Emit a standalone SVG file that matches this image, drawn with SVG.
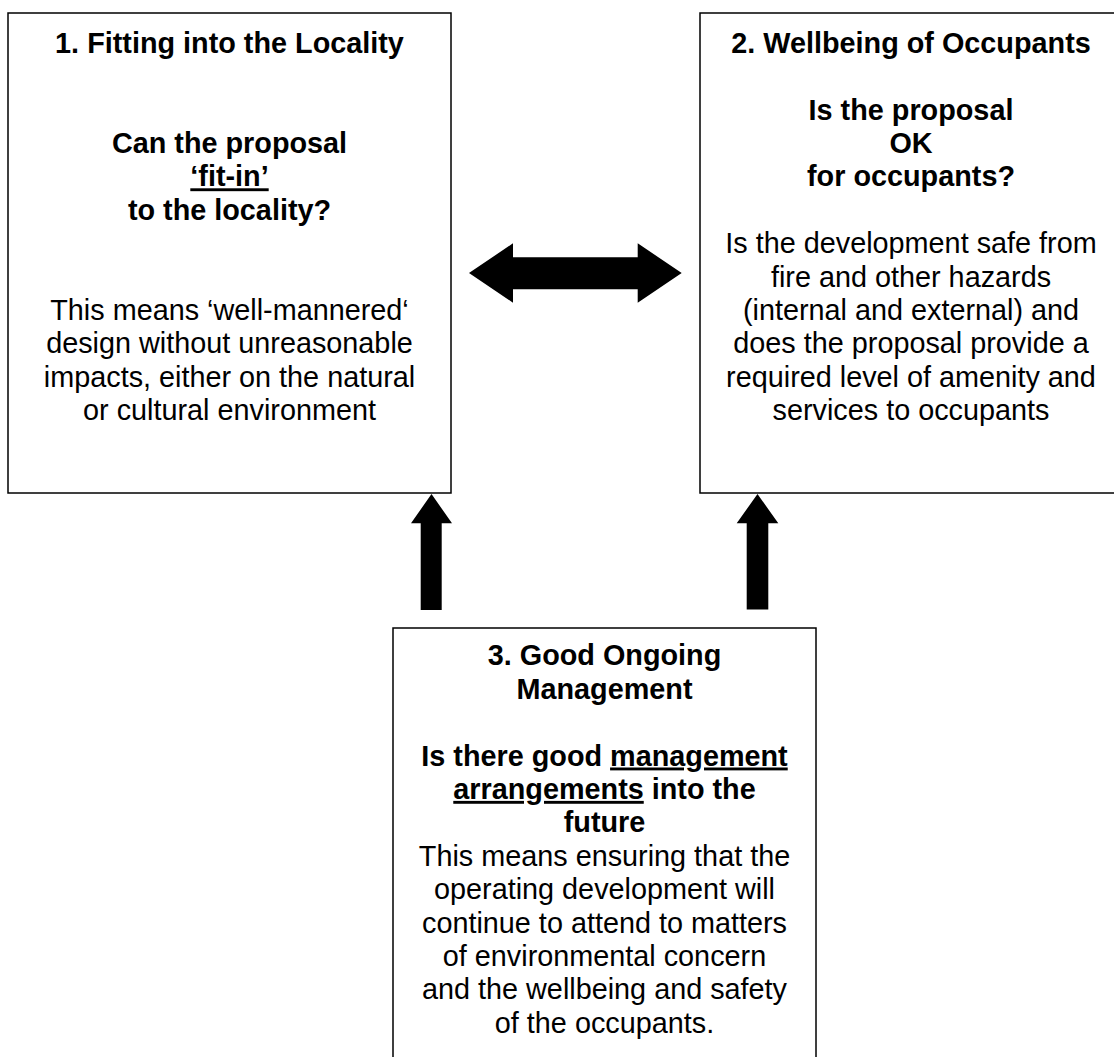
<svg xmlns="http://www.w3.org/2000/svg" width="1114" height="1057" viewBox="0 0 1114 1057">
<style>
.box{fill:#fff;stroke:#000;stroke-width:1.5}
text{font-family:"Liberation Sans",Arial,sans-serif;font-size:28.8px;fill:#000;text-anchor:middle}
.b{font-weight:bold}
.u{text-decoration:underline}
.arrow{fill:#000;stroke:none}
</style>
<rect width="1114" height="1057" fill="#fff"/>
<g id="node1">
<rect class="box" x="8" y="13" width="443" height="480"/>
<text class="b" x="229.5" y="52.7">1. Fitting into the Locality</text>
<text class="b" x="229.5" y="152.9">Can the proposal</text>
<text class="b" x="229.5" y="186.3"><tspan class="u">‘fit-in’</tspan></text>
<text class="b" x="229.5" y="219.7">to the locality?</text>
<text x="229.5" y="319.9">This means ‘well-mannered‘</text>
<text x="229.5" y="353.3">design without unreasonable</text>
<text x="229.5" y="386.7">impacts, either on the natural</text>
<text x="229.5" y="420.1">or cultural environment</text>
</g>
<g id="node2">
<rect class="box" x="700" y="13" width="422" height="480"/>
<text class="b" x="911" y="52.7">2. Wellbeing of Occupants</text>
<text class="b" x="911" y="119.5">Is the proposal</text>
<text class="b" x="911" y="152.9">OK</text>
<text class="b" x="911" y="186.3">for occupants?</text>
<text x="911" y="253.1">Is the development safe from</text>
<text x="911" y="286.5">fire and other hazards</text>
<text x="911" y="319.9">(internal and external) and</text>
<text x="911" y="353.3">does the proposal provide a</text>
<text x="911" y="386.7">required level of amenity and</text>
<text x="911" y="420.1">services to occupants</text>
</g>
<g id="node3">
<rect class="box" x="393" y="628" width="423" height="440"/>
<text class="b" x="604.5" y="665.3">3. Good Ongoing</text>
<text class="b" x="604.5" y="698.7">Management</text>
<text class="b" x="604.5" y="765.5">Is there good <tspan class="u">management</tspan></text>
<text class="b" x="604.5" y="798.9"><tspan class="u">arrangements</tspan> into the</text>
<text class="b" x="604.5" y="832.3">future</text>
<text x="604.5" y="865.7">This means ensuring that the</text>
<text x="604.5" y="899.1">operating development will</text>
<text x="604.5" y="932.5">continue to attend to matters</text>
<text x="604.5" y="965.9">of environmental concern</text>
<text x="604.5" y="999.3">and the wellbeing and safety</text>
<text x="604.5" y="1032.7">of the occupants.</text>
</g>
<g id="connectors">
<polygon class="arrow" points="469,273 513,243.3 513,257.3 637.7,257.3 637.7,243.3 681.7,273 637.7,302.7 637.7,289.3 513,289.3 513,302.7"/>
<polygon class="arrow" points="431.5,494 452,523.3 441.7,523.3 441.7,610 420.7,610 420.7,523.3 411,523.3"/>
<polygon class="arrow" points="757.5,494 778.3,523.3 768.3,523.3 768.3,609.5 746.7,609.5 746.7,523.3 736.7,523.3"/>
</g>
</svg>
